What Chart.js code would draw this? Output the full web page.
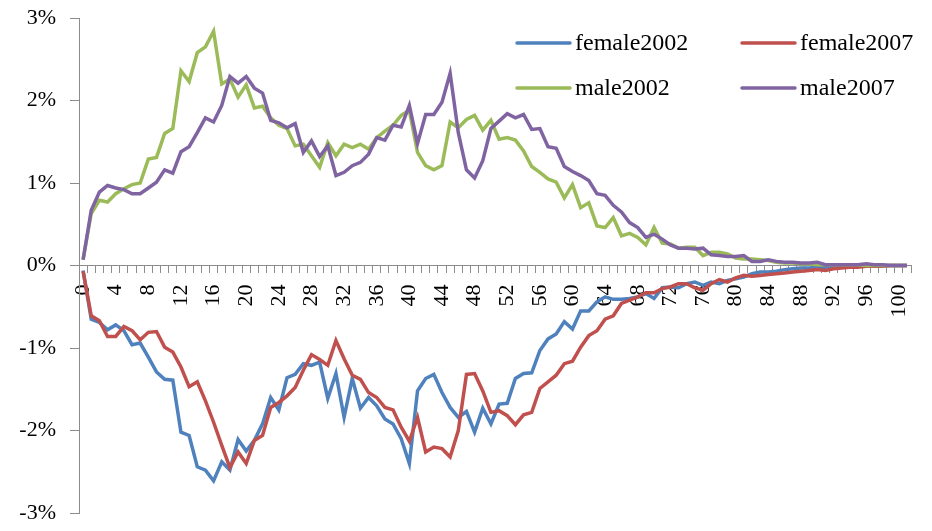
<!DOCTYPE html>
<html>
<head>
<meta charset="utf-8">
<script src="https://cdn.jsdelivr.net/npm/chart.js@4.4.1/dist/chart.umd.min.js"></script>
<style>
  html, body { margin: 0; padding: 0; background: #fff; }
  #wrap { width: 932px; height: 531px; }
</style>
</head>
<body>
<div id="wrap"><canvas id="chart"></canvas></div>
<script>
// ── Daten (Anteil je Altersjahr, in %) ──────────────────────────────────────
const ages = Array.from({ length: 102 }, (_, i) => String(i));   // 0 … 101
const labelStep = 4;

const female2002 = [
  -0.06, -0.65, -0.69, -0.78, -0.72, -0.79, -0.96, -0.94, -1.11, -1.29,
  -1.38, -1.39, -2.02, -2.06, -2.44, -2.48, -2.61, -2.38, -2.48, -2.11,
  -2.25, -2.12, -1.92, -1.60, -1.75, -1.36, -1.32, -1.19, -1.21, -1.17,
  -1.61, -1.31, -1.84, -1.37, -1.73, -1.60, -1.70, -1.86, -1.92, -2.10,
  -2.40, -1.52, -1.37, -1.32, -1.54, -1.72, -1.84, -1.77, -2.02, -1.73,
  -1.92, -1.68, -1.67, -1.37, -1.31, -1.30, -1.03, -0.89, -0.83, -0.68,
  -0.77, -0.55, -0.55, -0.44, -0.38, -0.41, -0.41, -0.40, -0.38, -0.34,
  -0.40, -0.27, -0.26, -0.27, -0.22, -0.20, -0.24, -0.20, -0.22, -0.18,
  -0.16, -0.14, -0.10, -0.08, -0.08, -0.07, -0.05, -0.04, -0.03, -0.03,
  -0.02, -0.02, -0.01, -0.01, -0.01, -0.01, -0.01, 0, 0, 0,
  0, 0
];

const female2007 = [
  -0.07, -0.61, -0.67, -0.86, -0.86, -0.74, -0.79, -0.90, -0.81, -0.80,
  -0.99, -1.05, -1.23, -1.47, -1.41, -1.64, -1.90, -2.18, -2.45, -2.26,
  -2.40, -2.12, -2.06, -1.72, -1.66, -1.58, -1.48, -1.27, -1.08, -1.14,
  -1.21, -0.91, -1.13, -1.33, -1.38, -1.54, -1.60, -1.72, -1.75, -1.96,
  -2.13, -1.84, -2.26, -2.20, -2.22, -2.32, -2.00, -1.32, -1.31, -1.52,
  -1.78, -1.76, -1.82, -1.93, -1.81, -1.78, -1.49, -1.41, -1.33, -1.19,
  -1.16, -0.99, -0.85, -0.79, -0.65, -0.61, -0.46, -0.42, -0.38, -0.33,
  -0.33, -0.28, -0.26, -0.22, -0.22, -0.27, -0.30, -0.22, -0.17, -0.20,
  -0.15, -0.12, -0.13, -0.12, -0.11, -0.10, -0.09, -0.08, -0.07, -0.06,
  -0.05, -0.06, -0.04, -0.03, -0.02, -0.02, -0.01, -0.01, -0.01, 0,
  0, 0
];

const male2002 = [
  0.07, 0.63, 0.79, 0.77, 0.87, 0.93, 0.98, 1.00, 1.29, 1.31,
  1.60, 1.66, 2.36, 2.23, 2.58, 2.65, 2.84, 2.20, 2.26, 2.04,
  2.19, 1.91, 1.93, 1.79, 1.70, 1.66, 1.45, 1.47, 1.33, 1.19,
  1.49, 1.33, 1.47, 1.43, 1.47, 1.41, 1.55, 1.63, 1.70, 1.82,
  1.88, 1.37, 1.21, 1.16, 1.21, 1.74, 1.67, 1.77, 1.82, 1.64,
  1.76, 1.53, 1.55, 1.52, 1.39, 1.20, 1.13, 1.05, 1.01, 0.82,
  0.98, 0.70, 0.76, 0.48, 0.46, 0.58, 0.36, 0.39, 0.34, 0.25,
  0.46, 0.27, 0.26, 0.21, 0.22, 0.22, 0.12, 0.16, 0.16, 0.14,
  0.09, 0.08, 0.08, 0.07, 0.06, 0.04, 0.03, 0.03, 0.02, 0.02,
  0.01, 0.01, 0.01, 0.01, 0.01, 0.01, 0, 0, 0, 0,
  0, 0
];

const male2007 = [
  0.07, 0.67, 0.89, 0.97, 0.94, 0.92, 0.87, 0.87, 0.94, 1.01,
  1.16, 1.12, 1.38, 1.44, 1.61, 1.79, 1.74, 1.94, 2.29, 2.21,
  2.29, 2.15, 2.09, 1.76, 1.73, 1.67, 1.72, 1.37, 1.51, 1.32,
  1.45, 1.09, 1.13, 1.21, 1.25, 1.35, 1.55, 1.52, 1.70, 1.68,
  1.94, 1.48, 1.83, 1.83, 1.98, 2.33, 1.61, 1.16, 1.06, 1.27,
  1.66, 1.75, 1.84, 1.79, 1.83, 1.65, 1.66, 1.44, 1.42, 1.20,
  1.14, 1.09, 1.03, 0.87, 0.85, 0.73, 0.65, 0.52, 0.46, 0.34,
  0.38, 0.32, 0.25, 0.21, 0.21, 0.20, 0.21, 0.13, 0.12, 0.11,
  0.11, 0.12, 0.05, 0.05, 0.07, 0.05, 0.04, 0.04, 0.03, 0.03,
  0.04, 0.01, 0.01, 0.01, 0.01, 0.01, 0.02, 0.01, 0.01, 0,
  0, 0
];

const yTicks = { min: -3, max: 3, step: 1 };

// ── Darstellung ─────────────────────────────────────────────────────────────
const FONT   = '"Liberation Serif", "Times New Roman", serif';
const AXIS   = '#8c8c8c';
const COLORS = { f02: '#4f81bd', f07: '#c0504d', m02: '#9bbb59', m07: '#8064a2' };

// Legende im Diagrammbereich, 2 × 2 wie im Original
const LEGEND_X = [517, 742];
const LEGEND_Y = [43, 88];

const insideLegend = {
  id: 'insideLegend',
  afterDraw(chart) {
    const { ctx } = chart;
    ctx.save();
    ctx.font = `24px ${FONT}`;
    ctx.textBaseline = 'middle';
    ctx.lineWidth = 3.5;
    ctx.lineCap = 'round';
    chart.data.datasets.forEach((ds, i) => {
      const x = LEGEND_X[i % 2];
      const y = LEGEND_Y[Math.floor(i / 2)];
      ctx.strokeStyle = ds.borderColor;
      ctx.beginPath();
      ctx.moveTo(x, y);
      ctx.lineTo(x + 53, y);
      ctx.stroke();
      ctx.fillStyle = '#000';
      ctx.fillText(ds.label, x + 58, y + 1);
    });
    ctx.restore();
  },
};

const line = (label, data, color, order) => ({
  label, data, order,
  borderColor: color,
  borderWidth: 3.5,
  pointRadius: 0,
  tension: 0,
  fill: false,
});

new Chart(document.getElementById('chart'), {
  type: 'line',
  data: {
    labels: ages,
    datasets: [
      line('female2002', female2002, COLORS.f02, 4),
      line('female2007', female2007, COLORS.f07, 3),
      line('male2002',   male2002,   COLORS.m02, 2),
      line('male2007',   male2007,   COLORS.m07, 1),
    ],
  },
  options: {
    responsive: true,
    maintainAspectRatio: false,
    animation: false,
    layout: { padding: { left: 0, top: 18, right: 21, bottom: 18 } },
    plugins: {
      legend:  { display: false },
      tooltip: { enabled: false },
    },
    scales: {
      x: {
        type: 'category',
        position: { y: 0 },
        offset: true,
        grid:   { offset: true, drawOnChartArea: false, drawTicks: true, tickLength: 7, color: AXIS },
        border: { color: AXIS, width: 1 },
        ticks: {
          autoSkip: false,
          minRotation: 90,
          maxRotation: 90,
          padding: 12,
          color: '#000',
          font: { family: FONT, size: 22 },
          callback(value, index) { return index % labelStep === 0 ? this.getLabelForValue(value) : ''; },
        },
        // Achse liegt bei 0 % im Diagramm, soll keinen Platz im Layout belegen
        afterFit(scale) {
          scale.height = 0;
          scale.paddingLeft = 0;
          scale.paddingRight = 0;
        },
      },
      y: {
        min: yTicks.min,
        max: yTicks.max,
        grid:   { drawOnChartArea: false, drawTicks: true, tickLength: 9, color: AXIS },
        border: { color: AXIS, width: 1 },
        ticks: {
          stepSize: yTicks.step,
          padding: 14,
          color: '#000',
          font: { family: FONT, size: 22 },
          callback: v => `${v}%`,
        },
        afterFit(scale) {
          scale.width = 79;
          scale.paddingTop = 0;
          scale.paddingBottom = 0;
        },
      },
    },
  },
  plugins: [insideLegend],
});
</script>
</body>
</html>
